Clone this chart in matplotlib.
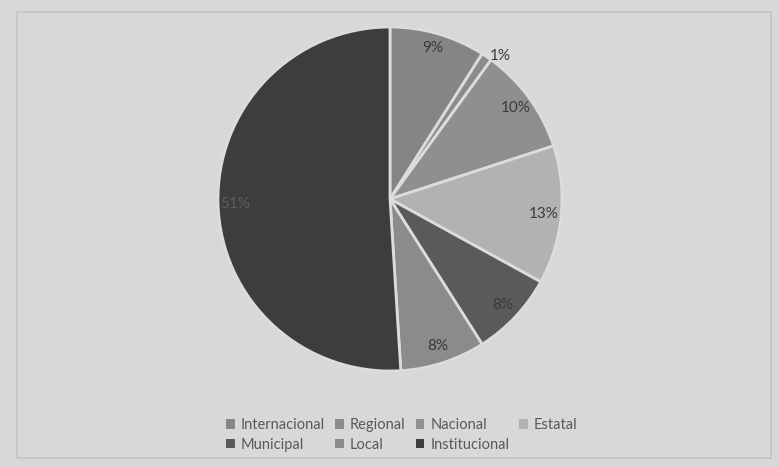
import matplotlib.pyplot as plt
from matplotlib.patches import Rectangle

labels = ["Internacional", "Regional", "Nacional", "Estatal", "Municipal", "Local", "Institucional"]
values = [9, 1, 10, 13, 8, 8, 51]
colors = ["#858585", "#8c8c8c", "#8f8f8f", "#b2b2b2", "#5a5a5a", "#8b8b8b", "#3d3d3d"]

plt.rcParams['font.family'] = ['Lato', 'DejaVu Sans']

W, H = 779, 467
fig = plt.figure(figsize=(W / 100, H / 100), dpi=100, facecolor="#d8d8d8")
fig.patches.append(Rectangle((17 / W, 1 - 458 / H), (771 - 17) / W, (458 - 12) / H,
                             transform=fig.transFigure, fill=False,
                             edgecolor="#c4c4c4", linewidth=1.2))

cx, cy, r = 390, 199, 172
ax = fig.add_axes([(cx - r) / W, (H - cy - r) / H, 2 * r / W, 2 * r / H])
ax.set_facecolor("none")
wedges, texts, autotexts = ax.pie(values, colors=colors, startangle=90, counterclock=False,
                                  autopct="%1.0f%%", pctdistance=0.9,
                                  wedgeprops=dict(edgecolor="#dcdcdc", linewidth=2),
                                  textprops=dict(fontsize=11, color="#3a3a3a"))
ax.set_xlim(-1, 1)
ax.set_ylim(-1, 1)
# 1% label sits just outside the pie
autotexts[1].set_position((0.64, 0.83))
autotexts[0].set_position((0.25, 0.88))
autotexts[6].set_color("#5e5e5e")

order = [0, 4, 1, 5, 2, 6, 3]
leg = fig.legend([wedges[i] for i in order], [labels[i] for i in order], ncol=4,
                 loc="center", bbox_to_anchor=(402 / W, 1 - 435 / H), frameon=False,
                 fontsize=10.5, handlelength=0.6, handleheight=0.6, handletextpad=0.4,
                 columnspacing=0.7, labelspacing=0.4)
for t in leg.get_texts():
    t.set_color("#595959")
for h in leg.legend_handles:
    h.set_edgecolor("none")

fig.savefig("out.png", dpi=100, facecolor=fig.get_facecolor())
